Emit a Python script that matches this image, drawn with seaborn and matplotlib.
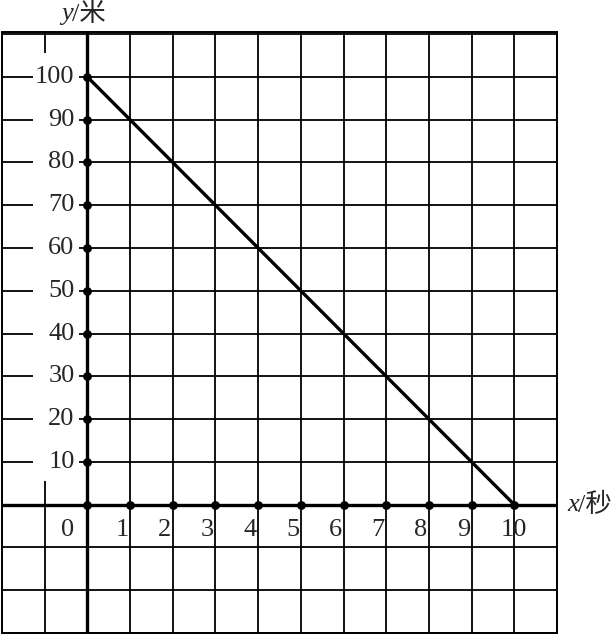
import numpy as np
import pandas as pd
import seaborn as sns
import matplotlib.pyplot as plt
from matplotlib.patches import Rectangle

# data
t = [0, 10]
distance = [100, 0]
y_marks = [0, 10, 20, 30, 40, 50, 60, 70, 80, 90, 100]
x_marks = [1, 2, 3, 4, 5, 6, 7, 8, 9, 10]
x_labels = ["1", "2", "3", "4", "5", "6", "7", "8", "9", "10"]
y_labels = ["10", "20", "30", "40", "50", "60", "70", "80", "90", "100"]

sns.set_style("white")
plt.rcParams['font.family'] = ['Liberation Serif', 'Noto Sans CJK SC']

fig = plt.figure(figsize=(6.11, 6.35), dpi=100)
ax = fig.add_axes([2 / 611, 2 / 635, 555 / 611, 601 / 635])

ax.set_xlim(-2, 11)
ax.set_ylim(-30, 110.5)
ax.set_xticks(np.arange(-2, 12, 1))
ax.set_yticks(np.arange(-30, 111, 10))
ax.grid(True, color='black', linewidth=1.3)
ax.tick_params(length=0, labelbottom=False, labelleft=False)
for s in ax.spines.values():
    s.set_color('black')
    s.set_linewidth(1.4)

# white strip behind y labels
ax.add_patch(Rectangle((-1.28, 5.6), 1.09, 100, facecolor='white',
                       edgecolor='none', zorder=2))

ax.axhline(0, color='black', linewidth=2.4, zorder=3)
ax.axvline(0, color='black', linewidth=2.4, zorder=3)

df = pd.DataFrame({'t': t, 'd': distance})
sns.lineplot(data=df, x='t', y='d', color='black', linewidth=2.4, ax=ax, zorder=4)

pts = pd.DataFrame({'x': [0] * len(y_marks) + x_marks,
                    'y': y_marks + [0] * len(x_marks)})
sns.scatterplot(data=pts, x='x', y='y', color='black', s=40, linewidth=0,
                ax=ax, zorder=5, clip_on=False)
ax.set_xlabel('')
ax.set_ylabel('')

fs = 19
for v, lab in zip(y_marks[1:], y_labels):
    ax.text(-0.3, v, lab, ha='right', va='center', fontsize=fs, zorder=6)
for v, lab in zip(x_marks, x_labels):
    if lab == "10":
        ax.text(v, -6, lab, ha='center', va='center', fontsize=fs, zorder=6)
    else:
        ax.text(v - 0.03, -6, lab, ha='right', va='center', fontsize=fs, zorder=6)
ax.text(-0.47, -6, "0", ha='center', va='center', fontsize=fs, zorder=6)

# axis names
ax.text(-0.62, 114.8, "y", ha='left', va='center', fontsize=fs,
        style='italic', clip_on=False)
ax.text(-0.36, 114.8, "/米", ha='left', va='center', fontsize=fs,
        clip_on=False)
ax.text(11.25, 0, "x", ha='left', va='center', fontsize=fs,
        style='italic', clip_on=False)
ax.text(11.5, 0, "/秒", ha='left', va='center', fontsize=fs,
        clip_on=False)

fig.savefig("out.png", dpi=100)
